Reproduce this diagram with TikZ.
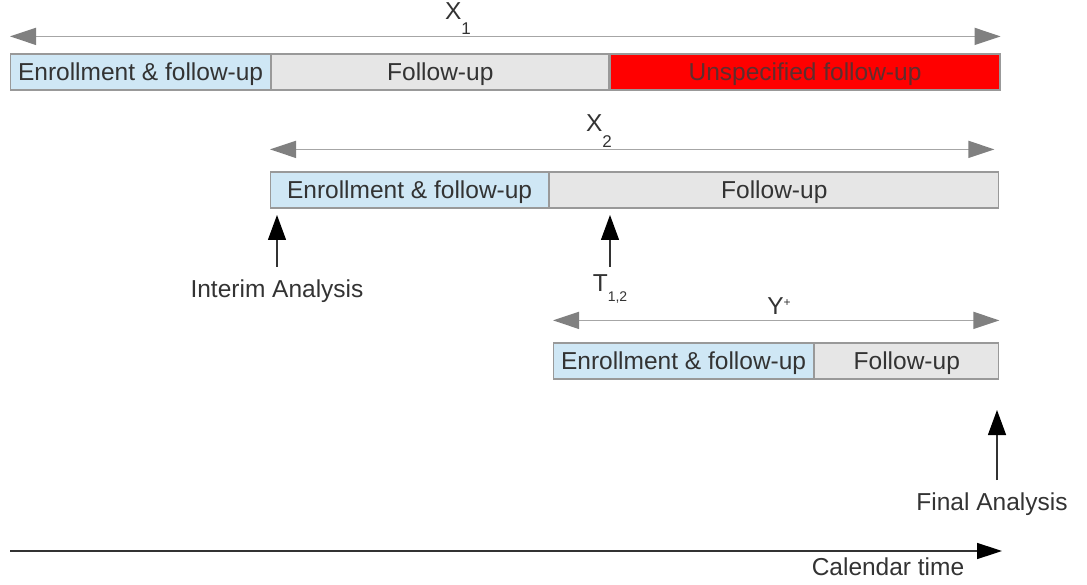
\documentclass[tikz,border=0pt]{standalone}
\usepackage{fontspec}
\setmainfont{Liberation Sans}
\usetikzlibrary{arrows.meta}

\definecolor{enrlblue}{HTML}{CFE7F5}
\definecolor{fupgray}{HTML}{E6E6E6}
\definecolor{edgegray}{HTML}{999999}
\definecolor{txtgray}{HTML}{333333}
\definecolor{tipgray}{HTML}{808080}
\definecolor{linegray}{HTML}{A6A6A6}
\definecolor{unsptxt}{HTML}{5E2E2E}
\newcommand{\figfont}{\fontsize{24.5}{29}\selectfont}

\tikzset{
  seg/.style={draw=edgegray, line width=1.2pt, rectangle, inner sep=0pt,
    minimum height=36pt, text height=17.5pt, text depth=0pt, anchor=west,
    font=\figfont, text=txtgray},
  enrlseg/.style={seg, fill=enrlblue},
  fupseg/.style={seg, fill=fupgray},
  unspseg/.style={seg, fill=red, text=unsptxt},
  spanarrow/.style={draw=linegray, line width=1.5pt,
    {Triangle[length=26pt,width=17pt,color=tipgray]}-{Triangle[length=26pt,width=17pt,color=tipgray]}},
  eventarrow/.style={draw=txtgray, line width=1.3pt,
    -{Triangle[length=25pt,width=18pt,color=black]}},
  lbl/.style={font=\figfont, text=txtgray, anchor=base, inner sep=0pt},
}

\begin{document}
\begin{tikzpicture}[x=1pt,y=-1pt]
  \useasboundingbox (0,0) rectangle (1087,585);

  % first design
  \node[enrlseg, minimum width=260pt] (b1e) at (10,72) {Enrollment \& follow-up};
  \node[fupseg, minimum width=337pt] (b1f) at (b1e.east) {Follow-up};
  \node[unspseg, minimum width=390pt] (b1u) at (b1f.east) {Unspecified follow-up};
  \draw[spanarrow] ([yshift=17pt]b1e.north west) -- ([yshift=17pt]b1u.north east);
  \node[lbl] (x1) at (458,20) {X\raisebox{-15pt}{\fontsize{17}{20}\selectfont 1}};

  % second design
  \node[enrlseg, minimum width=278pt] (b2e) at (270,190) {Enrollment \& follow-up};
  \node[fupseg, minimum width=449pt] (b2f) at (b2e.east) {Follow-up};
  \draw[spanarrow] ([yshift=22pt]b2e.north west) -- ([xshift=-5pt,yshift=22pt]b2f.north east);
  \node[lbl] (x2) at (599,132) {X\raisebox{-16pt}{\fontsize{17}{20}\selectfont 2}};

  % third design
  \node[enrlseg, minimum width=260pt] (b3e) at (553,361) {Enrollment \& follow-up};
  \node[fupseg, minimum width=184pt] (b3f) at (b3e.east) {Follow-up};
  \draw[spanarrow] ([yshift=22pt]b3e.north west) -- ([yshift=22pt]b3f.north east);
  \node[lbl] (yp) at (779,315) {Y\raisebox{8.5pt}{\fontsize{12}{14}\selectfont +}};

  % analyses
  \node[lbl] (ia) at (277,298) {Interim Analysis};
  \coordinate (iatail) at (277,267);
  \coordinate (iatip) at (277,215);
  \draw[eventarrow] (iatail) -- (iatip);

  \node[lbl] (t12) at (610,292) {T\raisebox{-10pt}{\fontsize{14}{16}\selectfont 1,2}};
  \coordinate (ttail) at (610,267);
  \coordinate (ttip) at (610,215);
  \draw[eventarrow] (ttail) -- (ttip);

  \node[lbl] (fa) at (992,510) {Final Analysis};
  \coordinate (fatail) at (997,480);
  \coordinate (fatip) at (997,410);
  \draw[eventarrow] (fatail) -- (fatip);

  % time axis
  \coordinate (ctl) at (10,551);
  \coordinate (ctr) at (1002,551);
  \draw[line width=1.5pt, draw=txtgray, -{Triangle[length=25pt,width=16pt,color=black]}] (ctl) -- (ctr);
  \node[lbl] (ct) at (888,575) {Calendar time};
\end{tikzpicture}
\end{document}
